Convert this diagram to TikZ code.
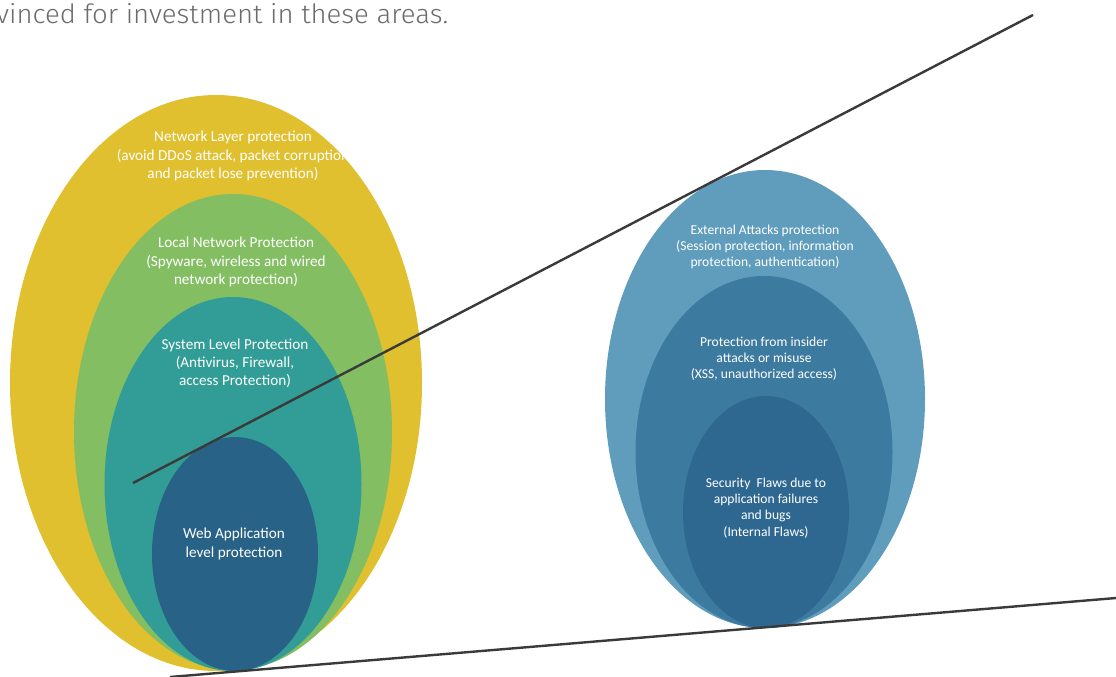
\documentclass[tikz,border=0pt]{standalone}
\usepackage{fontspec}
\setmainfont{Carlito}
\newfontfamily\thinfont{Fira Sans Light}
\usetikzlibrary{shapes.geometric}
\definecolor{yellowc}{HTML}{E0C02E}
\definecolor{greenc}{HTML}{84BE62}
\definecolor{tealc}{HTML}{329D96}
\definecolor{webc}{HTML}{286387}
\definecolor{extc}{HTML}{609DBC}
\definecolor{insc}{HTML}{3C7AA0}
\definecolor{flawc}{HTML}{2E6890}
\definecolor{rulec}{HTML}{3A3A3A}
\definecolor{headc}{HTML}{6B6B6B}
\begin{document}
\begin{tikzpicture}[x=1pt, y=-1pt,
  ell/.style = {ellipse, inner sep=0pt, draw=none},
  lbl/.style = {text=white, align=center, inner sep=0pt, font=\fontsize{15.2}{18.2}\selectfont},
  lbr/.style = {text=white, align=center, inner sep=0pt, font=\fontsize{13.6}{16.2}\selectfont},
  rule/.style = {draw=rulec, line width=2.4pt}]
\useasboundingbox (0,0) rectangle (1116,677);
\clip (0,0) rectangle (1116,677);
\fill[white] (0,0) rectangle (1116,677);

\node[inner sep=0pt, anchor=base west, text=headc] (head) at (-4,24)
  {\resizebox{452pt}{20pt}{\thinfont vinced for investment in these areas.}};

% left set
\node[ell, fill=yellowc, minimum width=412pt, minimum height=576pt] (net) at (216,383) {};
\node[ell, fill=greenc, minimum width=318pt, minimum height=476pt] (lan) at (233,432) {};
\node[ell, fill=tealc, minimum width=257pt, minimum height=374pt] (sys) at (233,484) {};
\node[ell, fill=webc, minimum width=166pt, minimum height=234pt] (web) at (235,554) {};

\node[lbl] (nettxt) at (233,156) {Network Layer protection\\(avoid DDoS attack, packet corruption\\and packet lose prevention)};
\node[lbl] (lantxt) at (236,262) {Local Network Protection\\(Spyware, wireless and wired\\network protection)};
\node[lbl] (systxt) at (235,363) {System Level Protection\\(Antivirus, Firewall,\\access Protection)};
\node[lbl] (webtxt) at (234,544) {Web Application\\level protection};

% right set
\node[ell, fill=extc, minimum width=320pt, minimum height=458pt] (ext) at (765,399) {};
\node[ell, fill=insc, minimum width=257pt, minimum height=352pt] (ins) at (764,452) {};
\node[ell, fill=flawc, minimum width=166pt, minimum height=232pt] (flaw) at (766,512) {};

\node[lbr] (exttxt) at (765,247) {External Attacks protection\\(Session protection, information\\protection, authentication)};
\node[lbr] (instxt) at (764,359) {Protection from insider\\attacks or misuse\\(XSS, unauthorized access)};
\node[lbr] (flawtxt) at (766,508) {Security\ \ Flaws due to\\application failures\\and bugs\\(Internal Flaws)};

% lines
\coordinate (up1) at (133,483);
\coordinate (up2) at (1033,15);
\coordinate (low1) at (170,677);
\coordinate (low2) at (1116,598);
\draw[rule] (up1) -- (up2);
\draw[rule] (low1) -- (low2);
\end{tikzpicture}
\end{document}
